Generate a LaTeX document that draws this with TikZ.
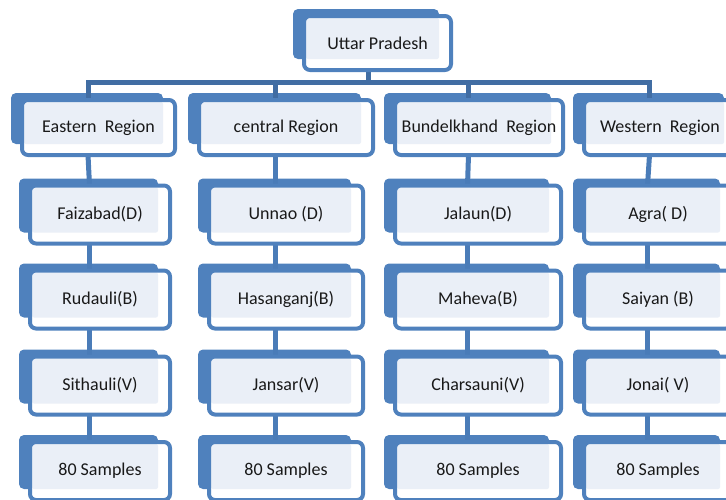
\documentclass[tikz,border=0pt]{standalone}
\usepackage{fontspec}
\setmainfont{Carlito}
\usetikzlibrary{backgrounds}
\definecolor{boxblue}{HTML}{4F81BD}
\definecolor{linkblue}{HTML}{4A7CB8}
\definecolor{busblue}{HTML}{416DA3}
\definecolor{paleblue}{HTML}{EAEFF7}
\tikzset{
  unit/.style={draw=boxblue, line width=2pt, fill=white, rounded corners=3pt,
    outer sep=0pt, inner sep=0pt, text=black!90, font=\fontsize{9}{11}\selectfont,
    path picture={\fill[paleblue, rounded corners=1pt]
      ([shift={(2,2)}]path picture bounding box.north west) rectangle
      ([shift={(-12,-11)}]path picture bounding box.south east);}},
  backing/.style={fill=boxblue, rounded corners=2.5pt},
  link/.style={linkblue, line width=2.5pt},
  bus/.style={busblue, line width=2.5pt},
}
\begin{document}
\begin{tikzpicture}[x=0.5pt, y=-0.5pt]
\useasboundingbox (0,0) rectangle (726,499);
\node[unit, minimum width=73.5pt, minimum height=27pt] (up) at (377.5,43) {Uttar Pradesh};
\node[unit, minimum width=76.5pt, minimum height=27.5pt] (e0) at (98.5,127.5) {Eastern\ \ Region};
\node[unit, minimum width=87pt, minimum height=27.5pt] (c0) at (286,127.5) {central Region};
\node[unit, minimum width=84pt, minimum height=27.5pt] (b0) at (479,127.5) {Bundelkhand\ \ Region};
\node[unit, minimum width=76pt, minimum height=27.5pt] (w0) at (660,127.5) {Western\ \ Region};
\foreach \col/\x/\w/\d/\b/\v in {e/100/70/Faizabad(D)/Rudauli(B)/Sithauli(V),
    c/286/77/Unnao (D)/Hasanganj(B)/Jansar(V),
    b/478/83/Jalaun(D)/Maheva(B)/Charsauni(V),
    w/658/74/Agra( D)/Saiyan (B)/Jonai( V)} {
  \node[unit, minimum width=\w pt, minimum height=29pt] (\col1) at (\x,214.5) {\d};
  \node[unit, minimum width=\w pt, minimum height=29pt] (\col2) at (\x,299.5) {\b};
  \node[unit, minimum width=\w pt, minimum height=29pt] (\col3) at (\x,385.5) {\v};
  \node[unit, minimum width=\w pt, minimum height=29pt] (\col4) at (\x,471) {80 Samples};
}
\coordinate (hub) at (368,82);
\begin{pgfonlayer}{background}
% blue backing plates behind every box
\fill[backing] ([shift={(-11,-7)}]up.north west) rectangle ([shift={(-12,-11)}]up.south east);
\foreach \col in {e,c,b,w} {
  \foreach \r in {0,...,4} {
    \fill[backing] ([shift={(-11,-7)}]\col\r.north west) rectangle ([shift={(-12,-11)}]\col\r.south east);
  }
  \foreach \r [count=\s from 1] in {0,...,3} {
    \draw[link] ([shift={(-10.5,0)}]\col\r.south) -- ([shift={(-10.5,0)}]\col\s.north);
  }
  \draw[bus] (hub) -| ([shift={(-10.5,0)}]\col0.north);
}
\draw[bus] ([shift={(-9.5,0)}]up.south) -- (hub);
\end{pgfonlayer}
\end{tikzpicture}
\end{document}
